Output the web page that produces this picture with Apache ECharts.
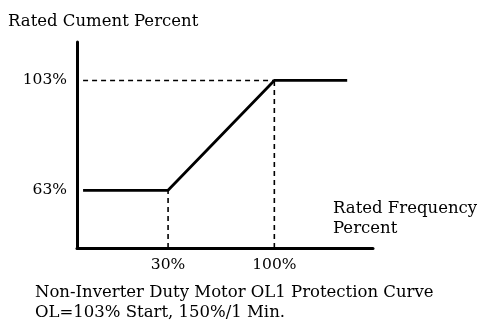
<!DOCTYPE html>
<html>
<head>
<meta charset="utf-8">
<script src="https://cdn.jsdelivr.net/npm/echarts@6/dist/echarts.min.js"></script>
<style>
  html, body { margin: 0; padding: 0; background: #fff; }
  #chart { width: 479px; height: 334px; }
</style>
</head>
<body>
<div id="chart"></div>
<script>
// OL1 protection curve: rated current percent vs rated frequency percent
const freqPct = [-26, 30, 100, 148];
const currentPct = [63, 63, 103, 103];
const xTickValues = [30, 100];
const yTickValues = [63, 103];
const yAxisTitle = 'Rated Cument Percent';
const xAxisTitle = ['Rated Frequency', 'Percent'];
const captionLines = ['Non-Inverter Duty Motor OL1 Protection Curve', 'OL=103% Start, 150%/1 Min.'];

const FONT = 'DejaVu Serif';
const TEXT_FONT = '16.5px "' + FONT + '"';
const xMin = -30, xMax = 165, yMin = 42, yMax = 117;

const curve = freqPct.map((f, i) => [f, currentPct[i]]);
const kneeLow = curve[1];
const kneeHigh = curve[2];

// guide lines from the knees to the axes
const guideH = [[freqPct[0], kneeHigh[1]], kneeHigh];
const guideV1 = [[kneeLow[0], yMin], kneeLow];
const guideV2 = [[kneeHigh[0], yMin], kneeHigh];

const dashStyle = { color: '#000', width: 1.6, type: [5, 4] };
function guide(data) {
  return { type: 'line', data, symbol: 'none', lineStyle: dashStyle, silent: true, z: 1 };
}

const chart = echarts.init(document.getElementById('chart'), null, { renderer: 'canvas' });
chart.setOption({
  animation: false,
  backgroundColor: '#fff',
  grid: { left: 77, top: 42, right: 106, bottom: 86, containLabel: false },
  xAxis: {
    type: 'value', min: xMin, max: xMax,
    splitLine: { show: false },
    axisTick: { show: false },
    axisLine: { onZero: false, lineStyle: { color: '#000', width: 3 } },
    axisLabel: {
      customValues: xTickValues, formatter: '{value}%', margin: 9,
      color: '#000', fontFamily: FONT, fontSize: 15.5
    }
  },
  yAxis: {
    type: 'value', min: yMin, max: yMax,
    splitLine: { show: false },
    axisTick: { show: false },
    axisLine: { show: true, onZero: false, lineStyle: { color: '#000', width: 3 } },
    axisLabel: {
      customValues: yTickValues, formatter: '{value}%', margin: 10,
      color: '#000', fontFamily: FONT, fontSize: 15.5
    }
  },
  graphic: [
    { type: 'text', left: 8, top: 13, style: { text: yAxisTitle, font: TEXT_FONT, fill: '#000' } },
    { type: 'text', left: 333, top: 199, style: { text: xAxisTitle.join('\n'), font: TEXT_FONT, lineHeight: 20, fill: '#000' } },
    { type: 'text', left: 35, top: 283, style: { text: captionLines.join('\n'), font: TEXT_FONT, lineHeight: 20, fill: '#000' } }
  ],
  series: [
    guide(guideH), guide(guideV1), guide(guideV2),
    {
      type: 'line', data: curve, symbol: 'none', z: 3,
      lineStyle: { color: '#000', width: 2.8 }
    }
  ]
});
</script>
</body>
</html>
